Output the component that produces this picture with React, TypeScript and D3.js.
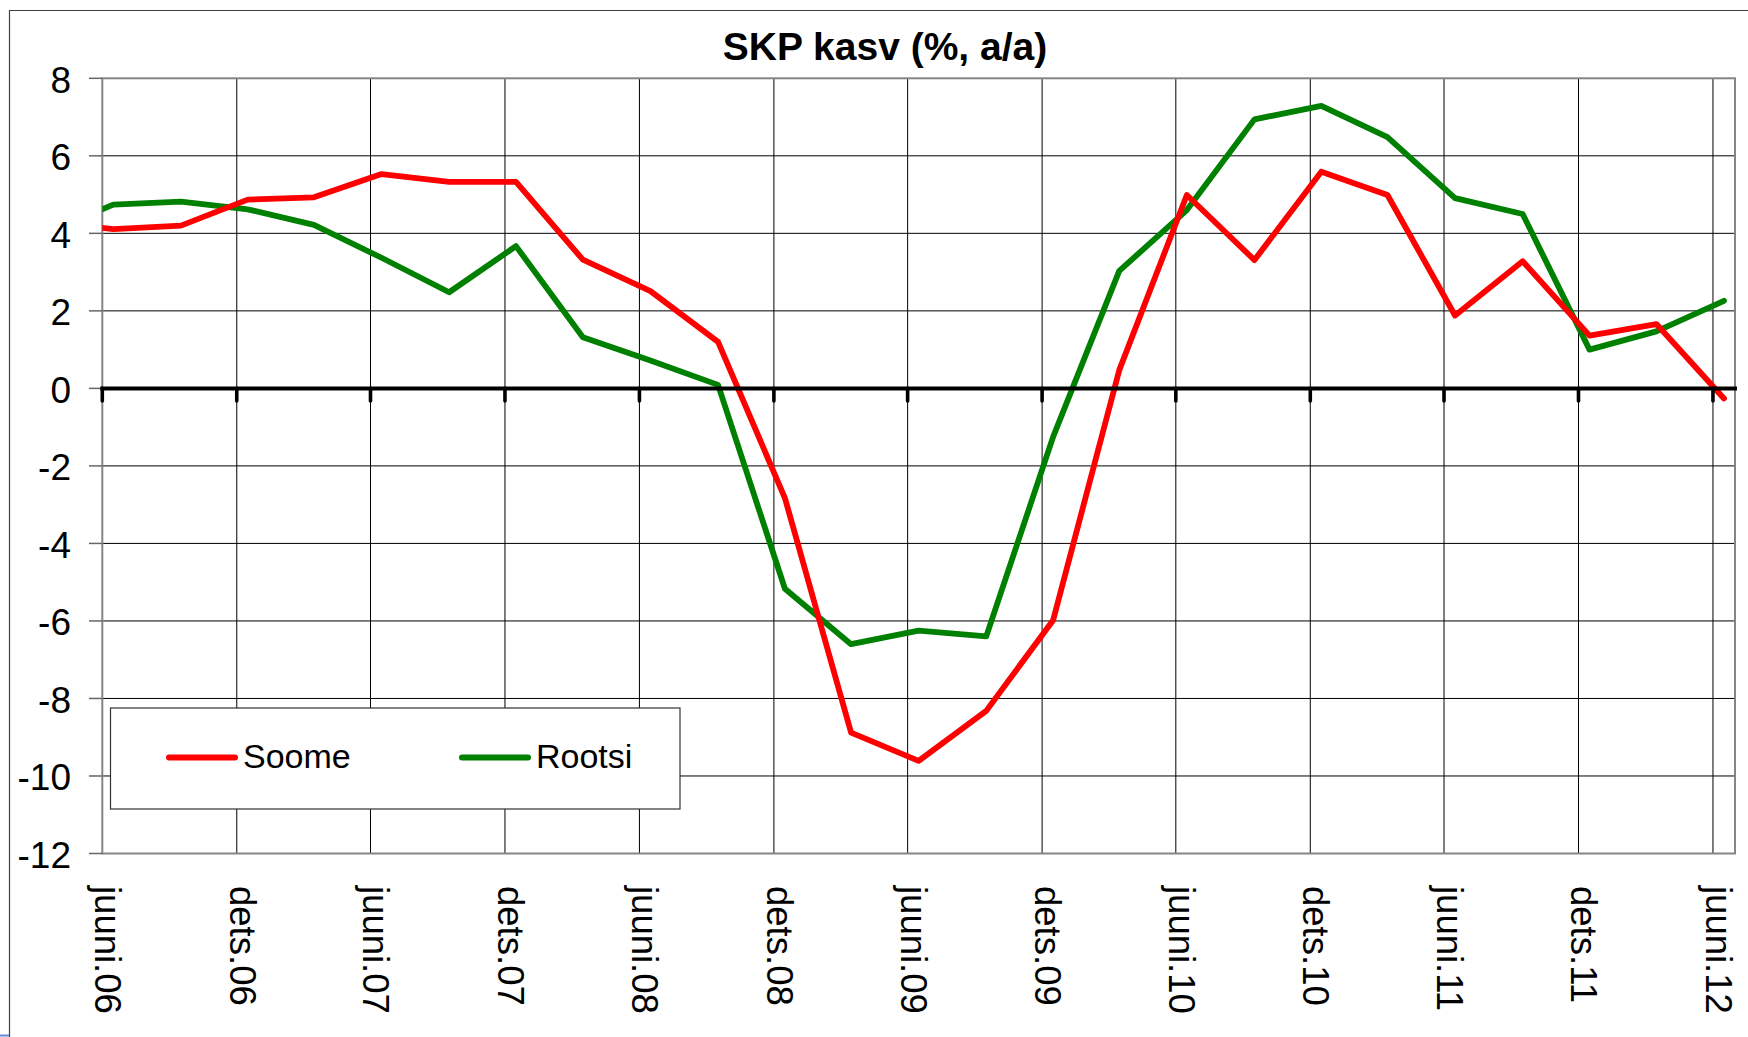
import { useEffect, useRef } from "react";
import * as d3 from "d3";

// quarterly observations (first one sits before the axis start and gets clipped)
const dates = [
  "2006-03-16", "2006-06-16", "2006-09-16", "2006-12-16",
  "2007-03-16", "2007-06-16", "2007-09-16", "2007-12-16",
  "2008-03-16", "2008-06-16", "2008-09-16", "2008-12-16",
  "2009-03-16", "2009-06-16", "2009-09-16", "2009-12-16",
  "2010-03-16", "2010-06-16", "2010-09-16", "2010-12-16",
  "2011-03-16", "2011-06-16", "2011-09-16", "2011-12-16",
  "2012-03-16", "2012-06-16",
];

const soome = [
  4.3, 4.11, 4.2, 4.87, 4.93, 5.53, 5.33, 5.33, 3.32, 2.51, 1.2, -2.83, -8.88,
  -9.61, -8.32, -5.98, 0.47, 4.99, 3.31, 5.59, 4.99, 1.88, 3.28, 1.36, 1.66, -0.26,
];

const rootsi = [
  4.0, 4.74, 4.82, 4.62, 4.22, 3.37, 2.48, 3.67, 1.32, 0.72, 0.09, -5.17, -6.6,
  -6.25, -6.4, -1.25, 3.03, 4.6, 6.94, 7.29, 6.48, 4.91, 4.5, 1.0, 1.47, 2.26,
];

const tickDates = [
  "2006-06-01", "2006-12-01", "2007-06-01", "2007-12-01", "2008-06-01",
  "2008-12-01", "2009-06-01", "2009-12-01", "2010-06-01", "2010-12-01",
  "2011-06-01", "2011-12-01", "2012-06-01",
];
const tickLabels = [
  "juuni.06", "dets.06", "juuni.07", "dets.07", "juuni.08", "dets.08",
  "juuni.09", "dets.09", "juuni.10", "dets.10", "juuni.11", "dets.11", "juuni.12",
];
const yTicks = [8, 6, 4, 2, 0, -2, -4, -6, -8, -10, -12];

const series = [
  { name: "Soome", values: soome, color: "#ff0000" },
  { name: "Rootsi", values: rootsi, color: "#008000" },
];

const FONT = "'Liberation Sans', Arial, sans-serif";

export default function App() {
  const svgRef = useRef<SVGSVGElement | null>(null);

  useEffect(() => {
    if (!svgRef.current) return;
    const W = 1748;
    const H = 1037;
    const plot = { left: 102.3, right: 1735, top: 78.3, bottom: 853.5 };

    const svg = d3.select(svgRef.current);
    svg.selectAll("*").remove();
    svg.attr("width", W).attr("height", H);

    const parse = d3.timeParse("%Y-%m-%d");
    const xDates = dates.map((d) => parse(d) as Date);
    const tDates = tickDates.map((d) => parse(d) as Date);

    const x = d3
      .scaleTime()
      .domain([parse("2006-06-01") as Date, parse("2012-07-01") as Date])
      .range([plot.left, plot.right]);
    const y = d3.scaleLinear().domain([-12, 8]).range([plot.bottom, plot.top]);

    svg.append("rect").attr("width", W).attr("height", H).attr("fill", "#fff");

    // chart frame
    svg.append("path")
      .attr("d", `M9.5,${H}V10.5H${W}`)
      .attr("fill", "none")
      .attr("stroke", "#404040")
      .attr("stroke-width", 1.2);
    svg.append("line")
      .attr("x1", 0).attr("x2", 9).attr("y1", 1035.5).attr("y2", 1035.5)
      .attr("stroke", "#5b8bd0").attr("stroke-width", 2);

    // title
    svg.append("text")
      .attr("x", 885)
      .attr("y", 60)
      .attr("text-anchor", "middle")
      .attr("font-family", FONT)
      .attr("font-weight", 700)
      .attr("font-size", 39)
      .text("SKP kasv (%, a/a)");

    const g = svg.append("g");

    // horizontal grid
    g.selectAll(".hgrid")
      .data(yTicks.filter((v) => v !== 8 && v !== -12))
      .join("line")
      .attr("x1", plot.left).attr("x2", plot.right)
      .attr("y1", (d) => y(d)).attr("y2", (d) => y(d))
      .attr("stroke", "#000").attr("stroke-width", 1);

    // vertical grid
    g.selectAll(".vgrid")
      .data(tDates.slice(1))
      .join("line")
      .attr("x1", (d) => x(d)).attr("x2", (d) => x(d))
      .attr("y1", plot.top).attr("y2", plot.bottom)
      .attr("stroke", "#000").attr("stroke-width", 1);

    // plot border
    g.append("rect")
      .attr("x", plot.left).attr("y", plot.top)
      .attr("width", plot.right - plot.left).attr("height", plot.bottom - plot.top)
      .attr("fill", "none").attr("stroke", "#858585").attr("stroke-width", 2);

    // y ticks + labels
    g.selectAll(".ytick")
      .data(yTicks)
      .join("line")
      .attr("x1", 89).attr("x2", plot.left)
      .attr("y1", (d) => y(d)).attr("y2", (d) => y(d))
      .attr("stroke", "#666").attr("stroke-width", 1.5);
    g.selectAll(".ylab")
      .data(yTicks)
      .join("text")
      .attr("x", 71)
      .attr("y", (d) => y(d) + 14.5)
      .attr("text-anchor", "end")
      .attr("font-family", FONT)
      .attr("font-size", 37)
      .text((d) => String(d));

    // lines
    svg.append("defs").append("clipPath").attr("id", "plotClip")
      .append("rect")
      .attr("x", plot.left).attr("y", plot.top - 10)
      .attr("width", plot.right - plot.left).attr("height", plot.bottom - plot.top + 20);

    const line = d3
      .line<number>()
      .x((_, i) => x(xDates[i]))
      .y((d) => y(d));

    const lines = svg.append("g").attr("clip-path", "url(#plotClip)");
    [...series].reverse().forEach((s) => {
      lines.append("path")
        .attr("d", line(s.values))
        .attr("fill", "none")
        .attr("stroke", s.color)
        .attr("stroke-width", 5.8)
        .attr("stroke-linejoin", "round")
        .attr("stroke-linecap", "round");
    });

    // zero axis with ticks
    svg.append("line")
      .attr("x1", plot.left).attr("x2", plot.right)
      .attr("y1", y(0)).attr("y2", y(0))
      .attr("stroke", "#000").attr("stroke-width", 4)
      .attr("stroke-linecap", "square");
    svg.selectAll(".xtick")
      .data(tDates)
      .join("line")
      .attr("x1", (d) => x(d)).attr("x2", (d) => x(d))
      .attr("y1", y(0)).attr("y2", y(0) + 12.5)
      .attr("stroke", "#000").attr("stroke-width", 3.6)
      .attr("stroke-linecap", "round");

    // x labels, rotated
    svg.selectAll(".xlab")
      .data(tDates)
      .join("text")
      .attr("transform", (d) => `translate(${x(d) - 7},886) rotate(90)`)
      .attr("font-family", FONT)
      .attr("font-size", 36.5)
      .text((_, i) => tickLabels[i]);

    // legend
    const lg = svg.append("g");
    lg.append("rect")
      .attr("x", 110.5).attr("y", 708)
      .attr("width", 569.5).attr("height", 101)
      .attr("fill", "#fff").attr("stroke", "#333").attr("stroke-width", 1.2);
    const legendX = [169, 462];
    series.forEach((s, i) => {
      lg.append("line")
        .attr("x1", legendX[i]).attr("x2", legendX[i] + 66)
        .attr("y1", 757.5).attr("y2", 757.5)
        .attr("stroke", s.color).attr("stroke-width", 6)
        .attr("stroke-linecap", "round");
      lg.append("text")
        .attr("x", legendX[i] + 74)
        .attr("y", 767.5)
        .attr("font-family", FONT)
        .attr("font-size", 34)
        .text(s.name);
    });
  }, []);

  return (
    <div style={{ position: "absolute", left: 0, top: 0 }}>
      <svg ref={svgRef} style={{ display: "block" }} />
    </div>
  );
}
